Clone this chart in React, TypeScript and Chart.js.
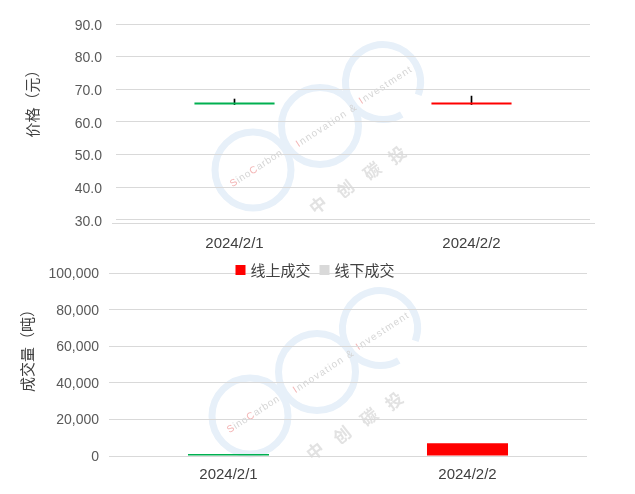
import React, { useEffect, useRef } from 'react';
import { Chart, registerables } from 'chart.js';

Chart.register(...registerables);

// ---------- data ----------
const categories = ['2024/2/1', '2024/2/2'];
const openPrice = [65.9, 65.3];
const closePrice = [65.3, 65.9];
const highPrice = [67.0, 67.9];
const lowPrice = [65.3, 65.3];
const priceTicks = [30, 40, 50, 60, 70, 80, 90];
const onlineVolume = [1100, 7000];
const offlineVolume = [0, 0];
const volumeTicks = [0, 20000, 40000, 60000, 80000, 100000];
const seriesNames = ['线上成交', '线下成交'];
const priceTitle = '价格（元）';
const volumeTitle = '成交量（吨）';

// ---------- styles ----------
const UP = '#ff0000';
const DOWN = '#00b050';
const OFFLINE = '#d9d9d9';
const GRID = '#d9d9d9';
const FONT = '"Liberation Sans", "Noto Sans CJK SC", Arial, sans-serif';
const CJK = '"Noto Sans CJK SC", "Liberation Sans", sans-serif';

Chart.defaults.font.family = FONT;

function drawSpaced(ctx: CanvasRenderingContext2D, text: string, x: number, y: number, angle: number, size: number, spacing: number, accent: number[]) {
  ctx.save();
  ctx.translate(x, y);
  ctx.rotate(angle);
  ctx.font = `${size}px "Liberation Sans", Arial, sans-serif`;
  ctx.textBaseline = 'middle';
  ctx.textAlign = 'left';
  let cx = 0;
  for (let i = 0; i < text.length; i++) {
    const ch = text[i];
    ctx.fillStyle = accent.includes(i) ? '#f3b4b4' : '#d6d6d6';
    ctx.fillText(ch, cx, 0);
    cx += ctx.measureText(ch).width + spacing;
  }
  ctx.restore();
}

function drawWatermark(ctx: CanvasRenderingContext2D, dx: number, dy: number) {
  ctx.save();
  ctx.translate(dx, dy);
  ctx.strokeStyle = '#e7f0f9';
  ctx.lineWidth = 7;
  ctx.beginPath();
  ctx.arc(253, 170, 38, 0, Math.PI * 2);
  ctx.stroke();
  ctx.beginPath();
  ctx.arc(320, 126, 38.5, 0, Math.PI * 2);
  ctx.stroke();
  ctx.beginPath();
  ctx.arc(383, 82, 37.5, (60 * Math.PI) / 180, (380 * Math.PI) / 180);
  ctx.stroke();
  const ang = (-33 * Math.PI) / 180;
  drawSpaced(ctx, 'SinoCarbon', 231, 185, ang, 10, 0.8, [0, 4]);
  drawSpaced(ctx, 'Innovation &', 297, 145, ang, 10, 1.3, [0]);
  drawSpaced(ctx, 'Investment', 360, 102, ang, 10, 1.3, [0]);
  const cn = '中创碳投';
  const pts = [[318, 205], [345, 189], [372, 171], [397, 155]];
  ctx.font = `bold 17px ${CJK}`;
  ctx.fillStyle = '#e2e2e2';
  ctx.textAlign = 'center';
  ctx.textBaseline = 'middle';
  for (let i = 0; i < cn.length; i++) {
    ctx.save();
    ctx.translate(pts[i][0], pts[i][1]);
    ctx.rotate((-38 * Math.PI) / 180);
    ctx.fillText(cn[i], 0, 0);
    ctx.restore();
  }
  ctx.restore();
}

function titlePlugin(text: string, x: number, y: number) {
  return {
    id: 'yTitle',
    afterDraw(chart: any) {
      const ctx = chart.ctx;
      ctx.save();
      ctx.translate(x, y);
      ctx.rotate(-Math.PI / 2);
      ctx.font = `15px ${CJK}`;
      ctx.fillStyle = '#404040';
      ctx.textAlign = 'center';
      ctx.textBaseline = 'middle';
      ctx.fillText(text, 0, 0);
      ctx.restore();
    },
  };
}

function watermarkPlugin(dx: number, dy: number) {
  return {
    id: 'watermark',
    beforeDraw(chart: any) {
      drawWatermark(chart.ctx, dx, dy);
    },
  };
}

const axisLinePlugin = {
  id: 'axisLine',
  afterDraw(chart: any) {
    const { ctx, chartArea } = chart;
    ctx.save();
    ctx.strokeStyle = GRID;
    ctx.lineWidth = 1;
    ctx.beginPath();
    const y = Math.round(chartArea.bottom) + 0.5;
    ctx.moveTo(chartArea.left - 4, y);
    ctx.lineTo(chartArea.right + 5, y);
    ctx.stroke();
    ctx.restore();
  },
};

const legendColors = [UP, OFFLINE];
const legendPlugin = {
  id: 'customLegend',
  afterDraw(chart: any) {
    const ctx = chart.ctx;
    ctx.save();
    ctx.font = `15px ${CJK}`;
    const box = 10;
    const gap = 5;
    const itemGap = 9;
    const widths = seriesNames.map((s) => ctx.measureText(s).width);
    const total = widths.reduce((a, w) => a + box + gap + w, 0) + itemGap * (seriesNames.length - 1);
    let x = 315 - total / 2;
    const cy = 15;
    ctx.textBaseline = 'middle';
    ctx.textAlign = 'left';
    seriesNames.forEach((s, i) => {
      ctx.fillStyle = legendColors[i];
      ctx.fillRect(x, cy - box / 2, box, box);
      x += box + gap;
      ctx.fillStyle = '#404040';
      ctx.fillText(s, x, cy);
      x += widths[i] + itemGap;
    });
    ctx.restore();
  },
};

export default function App() {
  const topRef = useRef<HTMLCanvasElement>(null);
  const botRef = useRef<HTMLCanvasElement>(null);

  useEffect(() => {
    document.body.style.margin = '0';
    const bodyColors = openPrice.map((o, i) => (closePrice[i] >= o ? UP : DOWN));
    const top = new Chart(topRef.current as HTMLCanvasElement, {
      type: 'bar',
      data: {
        labels: categories,
        datasets: [
          {
            label: 'body',
            data: categories.map((_, i) => [openPrice[i], closePrice[i]]),
            backgroundColor: bodyColors,
            grouped: false,
            barPercentage: 0.338,
            categoryPercentage: 1,
            borderSkipped: false,
            order: 0,
          } as any,
          {
            label: 'wick',
            data: categories.map((_, i) => [lowPrice[i], highPrice[i]]),
            backgroundColor: '#000000',
            barThickness: 1,
            grouped: false,
            order: 1,
          } as any,
        ],
      },
      options: {
        animation: false,
        responsive: false,
        maintainAspectRatio: false,
        layout: { padding: { left: 0, right: 45, top: 24, bottom: 2 } },
        plugins: { legend: { display: false }, tooltip: { enabled: false } },
        scales: {
          x: {
            grid: { display: false },
            border: { display: false },
            ticks: { color: '#404040', font: { size: 15 }, padding: 4 },
            afterFit: (s: any) => { s.height = 30; },
          },
          y: {
            min: 29,
            max: 90,
            afterBuildTicks: (s: any) => { s.ticks = priceTicks.map((v) => ({ value: v })); },
            grid: { color: GRID, drawTicks: false },
            border: { display: false },
            ticks: { color: '#595959', font: { size: 14 }, padding: 14, labelOffset: 2, callback: (v: any) => Number(v).toFixed(1) },
            afterFit: (s: any) => { s.width = 116; },
          },
        },
      } as any,
      plugins: [watermarkPlugin(0, 0), axisLinePlugin, titlePlugin(priceTitle, 32, 100)],
    });

    const volColors = openPrice.map((o, i) => (closePrice[i] >= o ? UP : DOWN));
    const bot = new Chart(botRef.current as HTMLCanvasElement, {
      type: 'bar',
      data: {
        labels: categories,
        datasets: [
          {
            label: seriesNames[0],
            data: onlineVolume,
            backgroundColor: volColors,
            barPercentage: 0.339,
            categoryPercentage: 1,
            stack: 'v',
          },
          {
            label: seriesNames[1],
            data: offlineVolume,
            backgroundColor: OFFLINE,
            barPercentage: 0.339,
            categoryPercentage: 1,
            stack: 'v',
          },
        ],
      },
      options: {
        animation: false,
        responsive: false,
        maintainAspectRatio: false,
        layout: { padding: { left: 0, right: 48, top: 18, bottom: 8 } },
        plugins: { legend: { display: false }, tooltip: { enabled: false } },
        scales: {
          x: {
            stacked: true,
            grid: { display: false },
            border: { display: false },
            ticks: { color: '#404040', font: { size: 15 }, padding: 2 },
            afterFit: (s: any) => { s.height = 30; },
          },
          y: {
            stacked: true,
            min: 0,
            max: 100000,
            afterBuildTicks: (s: any) => { s.ticks = volumeTicks.map((v) => ({ value: v })); },
            grid: { color: GRID, drawTicks: false },
            border: { display: false },
            ticks: { color: '#595959', font: { size: 14 }, padding: 10, labelOffset: 1, callback: (v: any) => Number(v).toLocaleString('en-US') },
            afterFit: (s: any) => { s.width = 109; },
          },
        },
      } as any,
      plugins: [watermarkPlugin(-3, -9), titlePlugin(volumeTitle, 27, 92), legendPlugin],
    });

    return () => {
      top.destroy();
      bot.destroy();
    };
  }, []);

  return (
    <div style={{ position: 'fixed', left: 0, top: 0, width: 635, height: 494, background: '#ffffff' }}>
      <canvas ref={topRef} width={635} height={255} style={{ position: 'absolute', left: 0, top: 0, width: 635, height: 255 }} />
      <canvas ref={botRef} width={635} height={239} style={{ position: 'absolute', left: 0, top: 255, width: 635, height: 239 }} />
    </div>
  );
}
